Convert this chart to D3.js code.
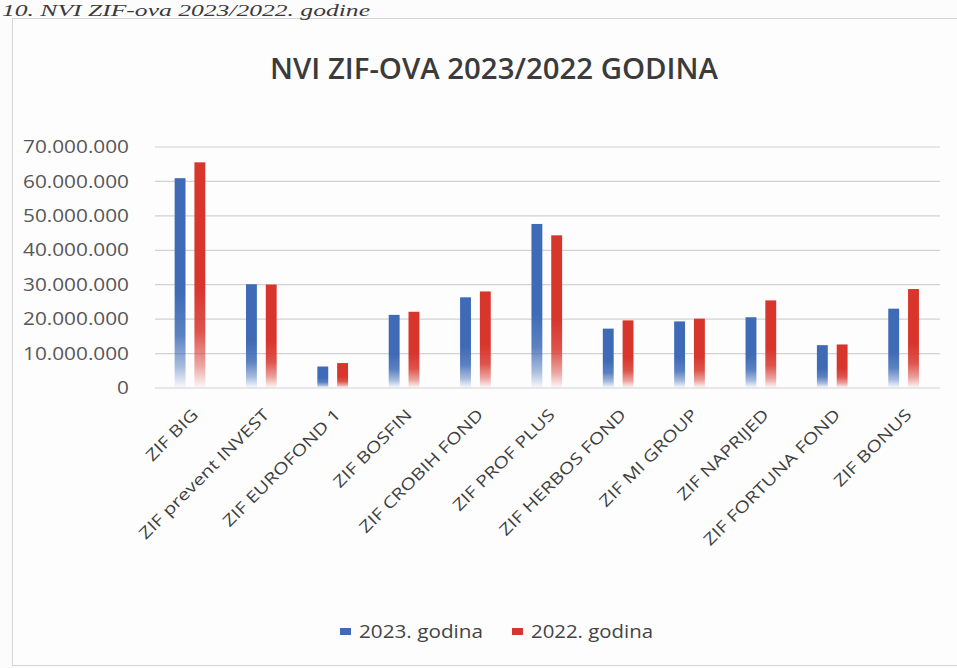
<!DOCTYPE html>
<html>
<head>
<meta charset="utf-8">
<script src="https://cdn.jsdelivr.net/npm/d3@7/dist/d3.min.js"></script>
<style>
  html, body { margin: 0; padding: 0; background: #fcfcfd; }
  svg { display: block; }
</style>
</head>
<body>
<svg id="chart" width="957" height="668"></svg>
<script>
// ---- data ----
const categories = ["ZIF BIG", "ZIF prevent INVEST", "ZIF EUROFOND 1", "ZIF BOSFIN", "ZIF CROBIH FOND",
  "ZIF PROF PLUS", "ZIF HERBOS FOND", "ZIF MI GROUP", "ZIF NAPRIJED", "ZIF FORTUNA FOND", "ZIF BONUS"];
const seriesNames = ["2023. godina", "2022. godina"];
const values2023 = [60800000, 30000000, 6100000, 21100000, 26200000, 47500000, 17100000, 19200000, 20400000, 12300000, 22900000];
const values2022 = [65400000, 29900000, 7100000, 22000000, 27900000, 44200000, 19500000, 20000000, 25300000, 12500000, 28600000];
const yTicks = [0, 10000000, 20000000, 30000000, 40000000, 50000000, 60000000, 70000000];
const titleText = "NVI ZIF-OVA 2023/2022 GODINA";
const captionText = "10. NVI ZIF-ova 2023/2022. godine";

// ---- setup ----
const svg = d3.select("#chart");
const font = "'Open Sans', 'Noto Sans', sans-serif";
const colors = { "2023. godina": "#3f6bb6", "2022. godina": "#d8352c" };

const plot = { left: 155, right: 940, top: 146.5, bottom: 387.5 };

// background + frame
svg.append("rect").attr("x", 0).attr("y", 0).attr("width", 957).attr("height", 668).attr("fill", "#fcfcfd");
svg.append("rect").attr("x", 12.5).attr("y", 18.5).attr("width", 960).attr("height", 647)
  .attr("fill", "#fdfdfe").attr("stroke", "#d4d4d6").attr("stroke-width", 1);

// caption above the chart frame
svg.append("text").attr("x", 2).attr("y", 15.5)
  .attr("font-family", "'Liberation Serif', 'DejaVu Serif', serif").attr("font-style", "italic")
  .attr("font-size", 17).attr("fill", "#3a3a3a")
  .attr("textLength", 368).attr("lengthAdjust", "spacingAndGlyphs")
  .text(captionText);

// title
svg.append("text").attr("x", 494).attr("y", 79).attr("text-anchor", "middle")
  .attr("font-family", font).attr("font-weight", 600).attr("font-size", 28).attr("fill", "#3b3b3b")
  .attr("textLength", 448).attr("lengthAdjust", "spacingAndGlyphs")
  .text(titleText);

// scales
const x0 = d3.scaleBand().domain(categories).range([plot.left, plot.right]).paddingInner(0).paddingOuter(0);
const bw = x0.bandwidth();
const x1 = d3.scaleBand().domain(seriesNames).range([bw * 0.275, bw * 0.705]).paddingInner(0.45).paddingOuter(0);
const y = d3.scaleLinear().domain([0, 70000000]).range([plot.bottom, plot.top]);

const locale = d3.formatLocale({ decimal: ",", thousands: ".", grouping: [3], currency: ["", ""] });
const fmt = locale.format(",.0f");

// gradients (solid top, fading to white toward the base)
const defs = svg.append("defs");
seriesNames.forEach((s, i) => {
  const g = defs.append("linearGradient").attr("id", "grad" + i)
    .attr("x1", 0).attr("y1", 0).attr("x2", 0).attr("y2", 1);
  [[0, 1], [0.55, 1], [0.75, 0.85], [0.9, 0.45], [1, 0.03]].forEach(([o, a]) => {
    g.append("stop").attr("offset", o).attr("stop-color", colors[s]).attr("stop-opacity", a);
  });
});

// y axis gridlines + labels
const yAxis = d3.axisLeft(y).tickValues(yTicks).tickFormat(fmt)
  .tickSizeInner(-(plot.right - plot.left)).tickSizeOuter(0).tickPadding(26);
const gy = svg.append("g").attr("transform", `translate(${plot.left},0)`).call(yAxis);
gy.select(".domain").remove();
gy.selectAll(".tick line").attr("stroke", "#d2d2d4").attr("stroke-width", 1.2);
gy.selectAll(".tick text").attr("font-family", font).attr("font-size", 19).attr("fill", "#575757");
const refTick = gy.selectAll(".tick text").filter(d => d === 70000000).node();
const kY = 106 / refTick.getComputedTextLength();
gy.selectAll(".tick text").each(function () {
  const w = this.getComputedTextLength();
  d3.select(this).attr("textLength", w * kY).attr("lengthAdjust", "spacingAndGlyphs");
});

// bars
const rows = categories.map((c, i) => ({ cat: c, vals: [values2023[i], values2022[i]] }));
const groups = svg.append("g").selectAll("g").data(rows).join("g")
  .attr("transform", d => `translate(${x0(d.cat)},0)`);
groups.selectAll("rect").data(d => d.vals.map((v, i) => ({ s: seriesNames[i], i, v }))).join("rect")
  .attr("x", d => x1(d.s)).attr("width", x1.bandwidth())
  .attr("y", d => y(d.v)).attr("height", d => y(0) - y(d.v))
  .attr("fill", d => `url(#grad${d.i})`);

// x axis labels
const xAxis = d3.axisBottom(x0).tickSize(0).tickPadding(0);
const gx = svg.append("g").attr("transform", `translate(0,${plot.bottom})`).call(xAxis);
gx.select(".domain").remove();
gx.selectAll(".tick text")
  .attr("font-family", font).attr("font-size", 16).attr("fill", "#3f3f3f")
  .attr("text-anchor", "end").attr("dominant-baseline", "central")
  .attr("x", 0).attr("y", 0).attr("dy", null)
  .attr("transform", "translate(4,24) rotate(-45)");
const refX = gx.selectAll(".tick text").filter(d => d === "ZIF prevent INVEST").node();
const kX = 176 / refX.getComputedTextLength();
gx.selectAll(".tick text").each(function () {
  const w = this.getComputedTextLength();
  d3.select(this).attr("textLength", w * kX).attr("lengthAdjust", "spacingAndGlyphs");
});

// legend
const legendItems = [
  { s: seriesNames[0], sx: 340, tx: 359, tw: 124 },
  { s: seriesNames[1], sx: 512, tx: 531, tw: 122 }
];
const lg = svg.append("g");
legendItems.forEach(it => {
  lg.append("rect").attr("x", it.sx).attr("y", 628).attr("width", 11).attr("height", 7)
    .attr("fill", colors[it.s]);
  lg.append("text").attr("x", it.tx).attr("y", 637.5)
    .attr("font-family", font).attr("font-size", 17.5).attr("fill", "#444")
    .attr("textLength", it.tw).attr("lengthAdjust", "spacingAndGlyphs")
    .text(it.s);
});
</script>
</body>
</html>
